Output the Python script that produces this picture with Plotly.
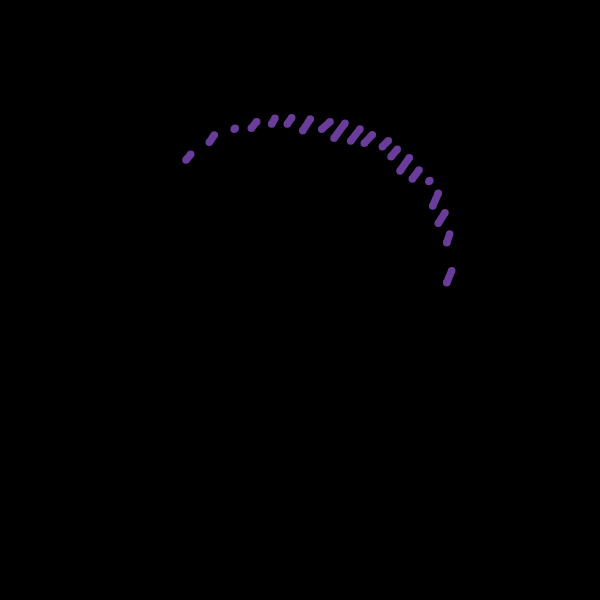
import plotly.graph_objects as go

# stroke segments: start and end points (data units, y grows downward)
x_start = [186.0, 209.3, 234.2, 251.3, 271.7, 287.3, 302.7, 321.7, 334.0, 350.7,
           364.3, 382.3, 391.0, 400.0, 412.3, 428.8, 432.7, 438.3, 446.7, 446.7]
y_start = [160.0, 142.3, 129.2, 128.3, 124.0, 124.0, 130.7, 129.3, 138.3, 141.0,
           143.3, 146.7, 156.7, 171.0, 179.0, 181.5, 206.0, 223.3, 242.7, 282.7]
x_end = [190.7, 214.3, 235.2, 256.7, 275.0, 291.7, 310.3, 330.0, 345.0, 360.0,
         372.3, 388.3, 397.3, 409.3, 419.0, 429.8, 438.3, 445.0, 449.7, 451.7]
y_end = [154.3, 135.0, 128.2, 121.7, 118.3, 117.7, 119.0, 121.7, 123.3, 129.0,
         134.7, 140.7, 149.3, 157.7, 170.0, 180.5, 193.3, 212.7, 234.0, 270.7]

STROKE = "#6a3d9a"

xs, ys = [], []
for a, b, c, d in zip(x_start, y_start, x_end, y_end):
    xs += [a, c, None]
    ys += [b, d, None]

fig = go.Figure()
fig.add_trace(go.Scatter(
    x=xs, y=ys, mode="lines+markers",
    line=dict(color=STROKE, width=7.5),
    marker=dict(color=STROKE, size=7.5, line=dict(width=0)),
    hoverinfo="skip", showlegend=False,
))

fig.update_xaxes(range=[0, 600], visible=False, showgrid=False, zeroline=False)
fig.update_yaxes(range=[600, 0], visible=False, showgrid=False, zeroline=False)
fig.update_layout(
    width=600, height=600,
    margin=dict(l=0, r=0, t=0, b=0),
    paper_bgcolor="black", plot_bgcolor="black",
)

# page itself black, no body margin
fig.write_html("out.html", config={"displayModeBar": False},
               post_script="document.body.style.margin='0';"
                           "document.body.style.background='black';"
                           "document.body.style.overflow='hidden';")
